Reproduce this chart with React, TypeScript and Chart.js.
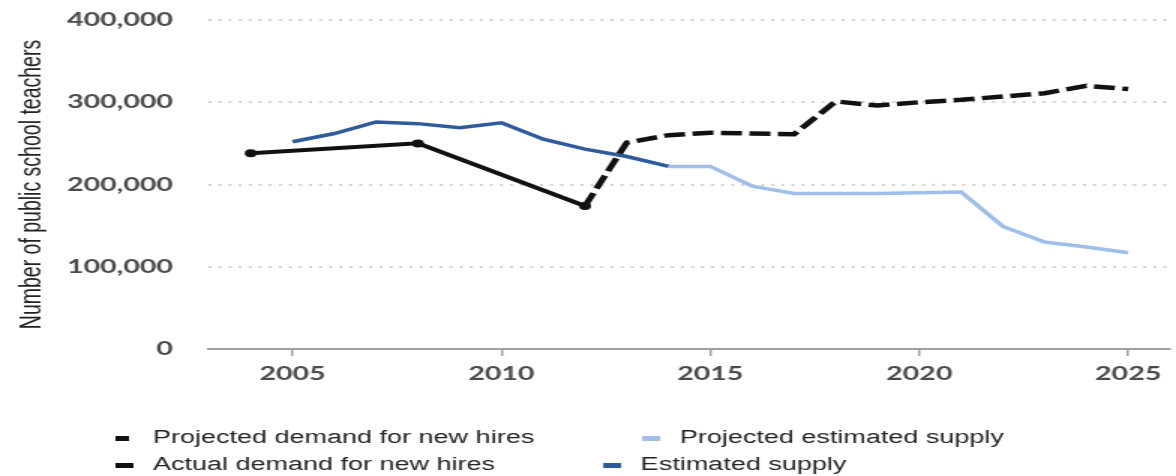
import React, { useEffect, useRef } from "react";
import { Chart, registerables } from "chart.js";

Chart.register(...registerables);

// ---- data ----
const ACTUAL_DEMAND_YEARS = [2004, 2008, 2012];
const ACTUAL_DEMAND = [238000, 250000, 174000];

const PROJECTED_DEMAND_YEARS = [2012, 2013, 2014, 2015, 2016, 2017, 2018, 2019, 2020, 2021, 2022, 2023, 2024, 2025];
const PROJECTED_DEMAND = [174000, 251000, 260000, 263000, 262000, 261000, 301000, 296000, 300000, 303000, 307000, 311000, 320000, 316000];

const SUPPLY_YEARS = [2005, 2006, 2007, 2008, 2009, 2010, 2011, 2012, 2013, 2014];
const SUPPLY = [252000, 262000, 276000, 274000, 269000, 275000, 255000, 243000, 234000, 222000];

const PROJECTED_SUPPLY_YEARS = [2014, 2015, 2016, 2017, 2018, 2019, 2020, 2021, 2022, 2023, 2024, 2025];
const PROJECTED_SUPPLY = [222000, 222000, 198000, 189000, 189000, 189000, 190000, 191000, 149000, 130000, 124000, 117000];

const X_TICKS = [2005, 2010, 2015, 2020, 2025];
const Y_TICKS = [0, 100000, 200000, 300000, 400000];

const LABEL_PROJ_DEMAND = "Projected demand for new hires";
const LABEL_PROJ_SUPPLY = "Projected estimated supply";
const LABEL_ACTUAL_DEMAND = "Actual demand for new hires";
const LABEL_SUPPLY = "Estimated supply";
const LEGEND_ROWS = [
  [LABEL_PROJ_DEMAND, LABEL_PROJ_SUPPLY],
  [LABEL_ACTUAL_DEMAND, LABEL_SUPPLY],
];
const Y_TITLE = "Number of public school teachers";

// The reference picture is horizontally stretched; draw on a narrower bitmap and stretch it.
const STRETCH = 1.5;
const CSS_W = 1176;
const CSS_H = 476;
const BMP_W = Math.round(CSS_W / STRETCH);

const TICK_FONT = { family: "Lato, 'DejaVu Sans', sans-serif", size: 19, weight: "bold" as const };

const legendPlugin = {
  id: "customLegend",
  afterDraw(chart: any) {
    const ctx = chart.ctx as CanvasRenderingContext2D;
    ctx.save();
    ctx.font = "18px 'Liberation Sans', Arial, sans-serif";
    ctx.textBaseline = "middle";
    ctx.textAlign = "left";
    const rowY = [438.5, 465.5];
    LEGEND_ROWS.forEach((row, r) => {
      let x = 77;
      row.forEach((label) => {
        const ds = chart.data.datasets.find((d: any) => d.label === label);
        if (!ds) return;
        ctx.strokeStyle = ds.borderColor;
        ctx.lineWidth = 5;
        ctx.setLineDash([]);
        ctx.lineCap = "butt";
        const len = ds.borderDash && ds.borderDash.length ? 9 : 12;
        ctx.beginPath();
        ctx.moveTo(x, rowY[r]);
        ctx.lineTo(x + len, rowY[r]);
        ctx.stroke();
        ctx.fillStyle = "#222";
        ctx.fillText(label, x + 25, rowY[r]);
        x += 25 + ctx.measureText(label).width + 72;
      });
    });
    ctx.restore();
  },
};

const toPoints = (xs: number[], ys: number[]) => xs.map((x, i) => ({ x, y: ys[i] }));

export default function App() {
  const ref = useRef<HTMLCanvasElement | null>(null);

  useEffect(() => {
    document.body.style.margin = "0";
    const canvas = ref.current;
    if (!canvas) return;
    const chart = new Chart(canvas, {
      type: "line",
      data: {
        datasets: [
          {
            label: LABEL_PROJ_DEMAND,
            data: toPoints(PROJECTED_DEMAND_YEARS, PROJECTED_DEMAND),
            borderColor: "#111111",
            borderWidth: 4.5,
            borderDash: [14, 5],
            pointRadius: 0,
            tension: 0,
            fill: false,
          },
          {
            label: LABEL_PROJ_SUPPLY,
            data: toPoints(PROJECTED_SUPPLY_YEARS, PROJECTED_SUPPLY),
            borderColor: "#9fbfe8",
            borderWidth: 3.5,
            pointRadius: 0,
            tension: 0,
            fill: false,
          },
          {
            label: LABEL_ACTUAL_DEMAND,
            data: toPoints(ACTUAL_DEMAND_YEARS, ACTUAL_DEMAND),
            borderColor: "#111111",
            backgroundColor: "#111111",
            borderWidth: 4,
            pointRadius: 4,
            pointBorderWidth: 0,
            pointBackgroundColor: "#111111",
            tension: 0,
            fill: false,
          },
          {
            label: LABEL_SUPPLY,
            data: toPoints(SUPPLY_YEARS, SUPPLY),
            borderColor: "#2d5b9b",
            borderWidth: 3.5,
            pointRadius: 0,
            tension: 0,
            fill: false,
          },
        ],
      },
      options: {
        responsive: false,
        animation: false,
        devicePixelRatio: 1,
        layout: { padding: { top: 20, bottom: 87, left: 0, right: 0 } },
        plugins: {
          legend: { display: false },
          tooltip: { enabled: false },
          title: { display: false },
        },
        scales: {
          x: {
            type: "linear",
            min: 2003,
            max: 2026,
            afterBuildTicks: (s: any) => {
              s.ticks = X_TICKS.map((v) => ({ value: v }));
            },
            afterFit: (s: any) => {
              s.height = 40;
            },
            ticks: {
              autoSkip: false,
              maxRotation: 0,
              padding: 6,
              color: "#4a4a4a",
              font: TICK_FONT,
              callback: (v: any) => String(v),
            },
            grid: {
              drawOnChartArea: false,
              drawTicks: true,
              tickLength: 7,
              color: "#a0a0a0",
              lineWidth: 1.5,
            },
            border: { display: true, color: "#a0a0a0", width: 2 },
          },
          y: {
            type: "linear",
            min: 0,
            max: 400000,
            afterBuildTicks: (s: any) => {
              s.ticks = Y_TICKS.map((v) => ({ value: v }));
            },
            afterFit: (s: any) => {
              s.width = 209 / STRETCH;
              s.paddingTop = 0;
              s.paddingBottom = 0;
            },
            ticks: {
              padding: 24,
              color: "#4a4a4a",
              font: TICK_FONT,
              callback: (v: any) => Number(v).toLocaleString("en-US"),
            },
            grid: {
              drawTicks: false,
              lineWidth: 2,
              color: (c: any) => (c.tick && c.tick.value === 0 ? "rgba(0,0,0,0)" : "#d2d2d2"),
            },
            border: { display: false, dash: [2, 4.7] },
            title: {
              display: true,
              text: Y_TITLE,
              color: "#222",
              font: { family: "'Liberation Sans', Arial, sans-serif", size: 19.5, weight: "normal" as const },
              padding: { top: 10, bottom: 0 },
            },
          },
        },
      },
      plugins: [legendPlugin],
    } as any);
    return () => chart.destroy();
  }, []);

  return (
    <canvas
      ref={ref}
      width={BMP_W}
      height={CSS_H}
      style={{ width: `${CSS_W}px`, height: `${CSS_H}px`, display: "block" }}
    />
  );
}
